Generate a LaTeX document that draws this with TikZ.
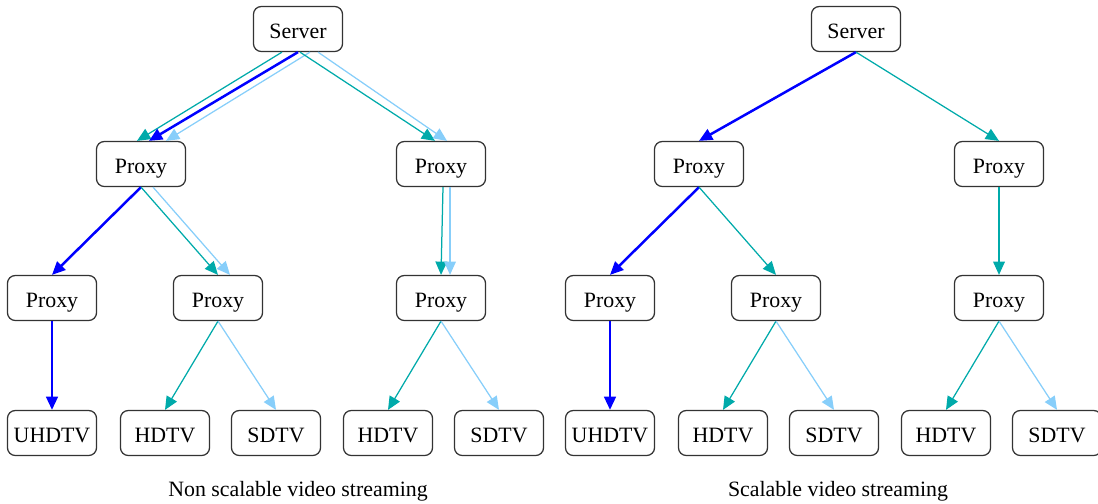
\documentclass[tikz,border=0pt]{standalone}
\usepackage{fontspec}
\setmainfont{Liberation Serif}
\usetikzlibrary{arrows.meta, positioning, calc}
\definecolor{hdteal}{RGB}{0,170,170}
\definecolor{sdblue}{RGB}{135,206,250}

\begin{document}
\begin{tikzpicture}[x=0.64pt,y=-0.64pt,
    box/.style={draw=black!80,line width=0.8pt,rounded corners=5pt,minimum width=57pt,minimum height=28.8pt,inner sep=2pt,text height=13pt,text depth=1pt,font=\fontsize{14}{16}\selectfont},
    caption/.style={font=\fontsize{14}{16}\selectfont},
    uhd/.style={draw=blue,line width=1.6pt,-{Triangle[length=8.5pt,width=7.5pt]}},
    hd/.style={draw=hdteal,line width=0.8pt,-{Triangle[length=8.5pt,width=7.5pt]}},
    sd/.style={draw=sdblue,line width=0.8pt,-{Triangle[length=8.5pt,width=7.5pt]}}]
        \useasboundingbox (0,0) rectangle (1098,503);
        % Non scalable video streaming
        \node[box] (ns_srv) at (298,29) {Server};
        \node[box] (ns_pa) at (141,164) {Proxy};
        \node[box] (ns_pb) at (441,164) {Proxy};
        \node[box] (ns_pc) at (52,298) {Proxy};
        \node[box] (ns_pd) at (218,298) {Proxy};
        \node[box] (ns_pe) at (441,298) {Proxy};
        \node[box] (ns_t0) at (52,433) {UHDTV};
        \node[box] (ns_t1) at (165,433) {HDTV};
        \node[box] (ns_t2) at (276,433) {SDTV};
        \node[box] (ns_t3) at (388,433) {HDTV};
        \node[box] (ns_t4) at (499,433) {SDTV};
        \draw[hd] ($(ns_srv.south)+(-16,0)$) -- ($(ns_pa.north)+(-4,0)$);
        \draw[uhd] (ns_srv.south) -- ($(ns_pa.north)+(8,0)$);
        \draw[sd] ($(ns_srv.south)+(12,0)$) -- ($(ns_pa.north)+(25,0)$);
        \draw[hd] ($(ns_srv.south)+(2,0)$) -- ($(ns_pb.north)+(-6,0)$);
        \draw[sd] ($(ns_srv.south)+(20,0)$) -- ($(ns_pb.north)+(6,0)$);
        \draw[uhd] (ns_pa.south) -- (ns_pc.north);
        \draw[hd] (ns_pa.south) -- (ns_pd.north);
        \draw[sd] ($(ns_pa.south)+(12,0)$) -- ($(ns_pd.north)+(12,0)$);
        \draw[hd] ($(ns_pb.south)+(2,0)$) -- (ns_pe.north);
        \draw[sd] ($(ns_pb.south)+(9,0)$) -- ($(ns_pe.north)+(9,0)$);
        \draw[uhd] (ns_pc.south) -- (ns_t0.north);
        \draw[hd] (ns_pd.south) -- (ns_t1.north);
        \draw[sd] (ns_pd.south) -- (ns_t2.north);
        \draw[hd] (ns_pe.south) -- (ns_t3.north);
        \draw[sd] (ns_pe.south) -- (ns_t4.north);
        \node[caption] (ns_cap) at (298,491) {Non scalable video streaming};
        % Scalable video streaming
        \node[box] (sc_srv) at (856,29) {Server};
        \node[box] (sc_pa) at (699,164) {Proxy};
        \node[box] (sc_pb) at (999,164) {Proxy};
        \node[box] (sc_pc) at (610,298) {Proxy};
        \node[box] (sc_pd) at (776,298) {Proxy};
        \node[box] (sc_pe) at (999,298) {Proxy};
        \node[box] (sc_t0) at (610,433) {UHDTV};
        \node[box] (sc_t1) at (723,433) {HDTV};
        \node[box] (sc_t2) at (834,433) {SDTV};
        \node[box] (sc_t3) at (946,433) {HDTV};
        \node[box] (sc_t4) at (1057,433) {SDTV};
        \draw[uhd] (sc_srv.south) -- (sc_pa.north);
        \draw[hd] (sc_srv.south) -- (sc_pb.north);
        \draw[uhd] (sc_pa.south) -- (sc_pc.north);
        \draw[hd] (sc_pa.south) -- (sc_pd.north);
        \draw[hd] (sc_pb.south) -- (sc_pe.north);
        \draw[uhd] (sc_pc.south) -- (sc_t0.north);
        \draw[hd] (sc_pd.south) -- (sc_t1.north);
        \draw[sd] (sc_pd.south) -- (sc_t2.north);
        \draw[hd] (sc_pe.south) -- (sc_t3.north);
        \draw[sd] (sc_pe.south) -- (sc_t4.north);
        \node[caption] (sc_cap) at (838,491) {Scalable video streaming};
      \end{tikzpicture}
\end{document}
